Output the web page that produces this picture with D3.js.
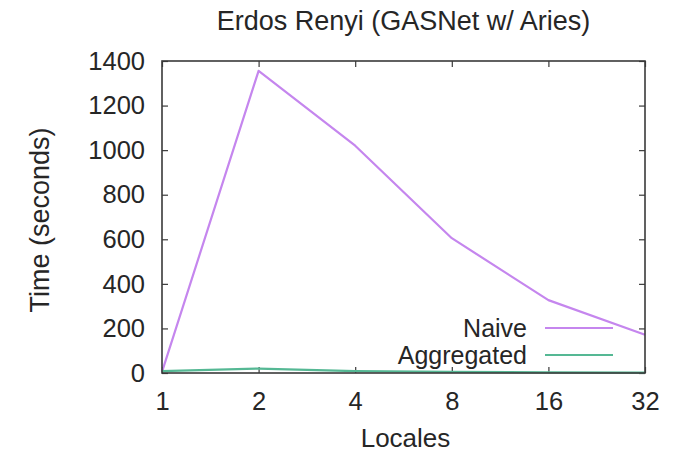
<!DOCTYPE html>
<html>
<head>
<meta charset="utf-8">
<script src="https://cdn.jsdelivr.net/npm/d3@7"></script>
<style>
  body { margin: 0; background: #fff; }
  text { font-family: "Liberation Sans", Arial, sans-serif; fill: #262626; }
</style>
</head>
<body>
<svg id="chart" width="679" height="454"></svg>
<script>
// values
var locales = [1, 2, 4, 8, 16, 32]
var naive = [5, 1356, 1020, 605, 327, 172]
var aggregated = [8, 20, 8, 5, 3, 2]
var yTicks = [0, 200, 400, 600, 800, 1000, 1200, 1400]
var seriesNames = ["Naive", "Aggregated"]
var seriesColors = ["#c586ee", "#55b894"]

var plotLeft = 162, plotRight = 645, plotTop = 61, plotBottom = 373
var fontSize = 25.5

var svg = d3.select("#chart")

var x = d3.scaleLog().base(2)
    .domain([1, 32])
    .range([plotLeft, plotRight])

var y = d3.scaleLinear()
    .domain([0, 1400])
    .range([plotBottom, plotTop])

// axes, ticks pointing in (gnuplot style, mirrored)
function styleAxis(g) {
  g.select(".domain").remove()
  g.selectAll(".tick line").attr("stroke", "#3a3a3a").attr("stroke-width", 1.2)
  g.selectAll(".tick text")
    .attr("font-size", fontSize + "px")
    .attr("font-family", "Liberation Sans, Arial, sans-serif")
    .attr("fill", "#262626")
}

svg.append("g")
  .attr("transform", "translate(0," + plotBottom + ")")
  .call(d3.axisBottom(x).tickValues(locales).tickFormat(d3.format("d"))
    .tickSizeInner(-6).tickSizeOuter(0).tickPadding(19))
  .call(styleAxis)

svg.append("g")
  .attr("transform", "translate(0," + plotTop + ")")
  .call(d3.axisTop(x).tickValues(locales).tickFormat("")
    .tickSizeInner(-6).tickSizeOuter(0))
  .call(styleAxis)

svg.append("g")
  .attr("transform", "translate(" + plotLeft + ",0)")
  .call(d3.axisLeft(y).tickValues(yTicks).tickFormat(d3.format("d"))
    .tickSizeInner(-6).tickSizeOuter(0).tickPadding(17))
  .call(styleAxis)

svg.append("g")
  .attr("transform", "translate(" + plotRight + ",0)")
  .call(d3.axisRight(y).tickValues(yTicks).tickFormat("")
    .tickSizeInner(-6).tickSizeOuter(0))
  .call(styleAxis)

// lines
var line = d3.line()
    .x(function(d, i) { return x(locales[i]) })
    .y(function(d) { return y(d) })

var allSeries = [naive, aggregated]
allSeries.forEach(function(s, k) {
  svg.append("path")
    .datum(s)
    .attr("fill", "none")
    .attr("stroke", seriesColors[k])
    .attr("stroke-width", 2.2)
    .attr("stroke-linejoin", "round")
    .attr("d", line)
})

// frame
svg.append("rect")
  .attr("x", plotLeft)
  .attr("y", plotTop)
  .attr("width", plotRight - plotLeft)
  .attr("height", plotBottom - plotTop)
  .attr("fill", "none")
  .attr("stroke", "#3a3a3a")
  .attr("stroke-width", 1.6)

// legend
var legY = [328, 355]
seriesNames.forEach(function(name, k) {
  svg.append("text")
    .attr("x", 527)
    .attr("y", legY[k])
    .attr("dy", "0.35em")
    .attr("text-anchor", "end")
    .attr("font-size", "25px")
    .text(name)
  svg.append("line")
    .attr("x1", 545)
    .attr("x2", 613)
    .attr("y1", legY[k])
    .attr("y2", legY[k])
    .attr("stroke", seriesColors[k])
    .attr("stroke-width", 2.2)
})

// title and axis labels
svg.append("text")
  .attr("x", (plotLeft + plotRight) / 2)
  .attr("y", 30)
  .attr("text-anchor", "middle")
  .attr("font-size", "27px")
  .text("Erdos Renyi (GASNet w/ Aries)")

svg.append("text")
  .attr("x", (plotLeft + plotRight) / 2 + 2)
  .attr("y", 447)
  .attr("text-anchor", "middle")
  .attr("font-size", "26px")
  .text("Locales")

svg.append("text")
  .attr("transform", "translate(49," + ((plotTop + plotBottom) / 2 + 3) + ")rotate(-90)")
  .attr("text-anchor", "middle")
  .attr("font-size", "27px")
  .text("Time (seconds)")
</script>
</body>
</html>
